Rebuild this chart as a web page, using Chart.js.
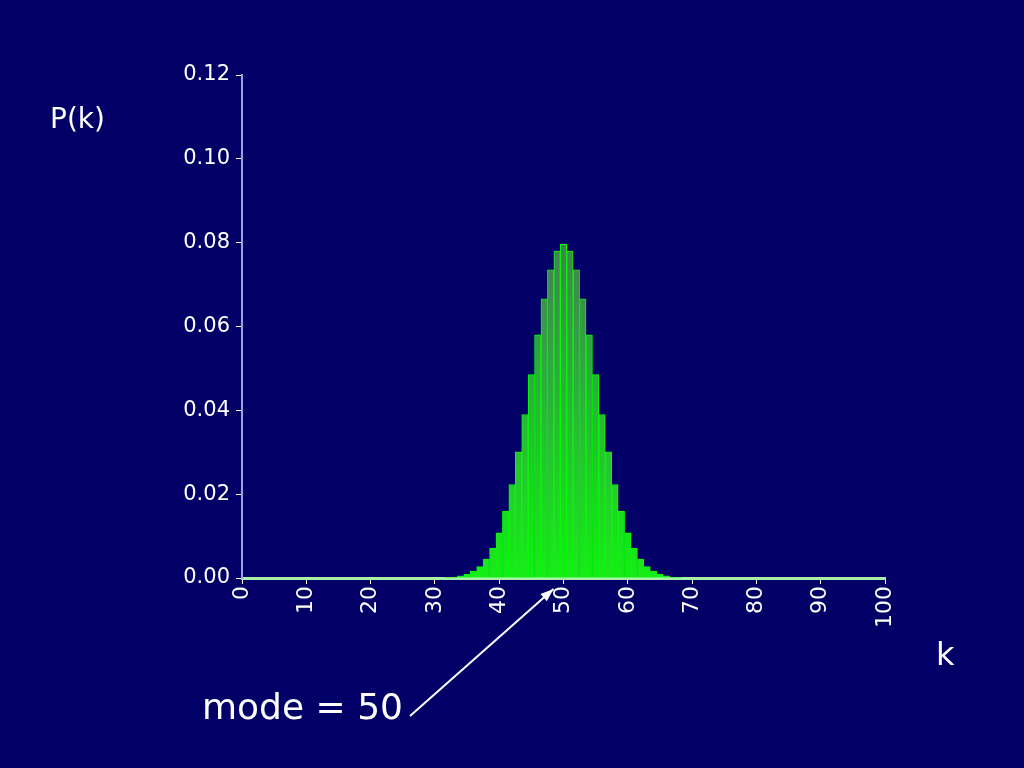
<!DOCTYPE html>
<html lang="en">
<head>
    <meta charset="UTF-8">
    <title>P(k) - binomial</title>
    <script src="https://cdn.jsdelivr.net/npm/chart.js"></script>
    <style>
        html, body {
            margin: 0;
            padding: 0;
            background: #020066;
        }
        .chart-container {
            position: relative;
            width: 1024px;
            height: 768px;
        }
    </style>
</head>
<body>

<div class="chart-container">
    <canvas id="binomChart" width="1024" height="768"></canvas>
</div>

<script>
    // k = 0 .. 100
    const kValues = [
        0, 1, 2, 3, 4, 5, 6, 7, 8, 9,
        10, 11, 12, 13, 14, 15, 16, 17, 18, 19,
        20, 21, 22, 23, 24, 25, 26, 27, 28, 29,
        30, 31, 32, 33, 34, 35, 36, 37, 38, 39,
        40, 41, 42, 43, 44, 45, 46, 47, 48, 49,
        50, 51, 52, 53, 54, 55, 56, 57, 58, 59,
        60, 61, 62, 63, 64, 65, 66, 67, 68, 69,
        70, 71, 72, 73, 74, 75, 76, 77, 78, 79,
        80, 81, 82, 83, 84, 85, 86, 87, 88, 89,
        90, 91, 92, 93, 94, 95, 96, 97, 98, 99,
        100
    ];

    // P(k)
    const pValues = [
        0, 0, 0, 0, 0, 0, 0, 0, 0, 0,
        0, 0, 0, 0, 0, 0, 0, 0, 0, 0,
        0, 0, 0, 0, 0, 0, 0, 0, 0, 0,
        0, 0, 0.0001, 0.0002, 0.0005, 0.0009, 0.0016, 0.0027, 0.0045, 0.0071,
        0.0108, 0.0159, 0.0223, 0.0301, 0.0390, 0.0485, 0.0580, 0.0666, 0.0735, 0.0780,
        0.0796, 0.0780, 0.0735, 0.0666, 0.0580, 0.0485, 0.0390, 0.0301, 0.0223, 0.0159,
        0.0108, 0.0071, 0.0045, 0.0027, 0.0016, 0.0009, 0.0005, 0.0002, 0.0001, 0,
        0, 0, 0, 0, 0, 0, 0, 0, 0, 0,
        0, 0, 0, 0, 0, 0, 0, 0, 0, 0,
        0, 0, 0, 0, 0, 0, 0, 0, 0, 0,
        0
    ];

    const xTicks = [0, 10, 20, 30, 40, 50, 60, 70, 80, 90, 100];
    const yTicks = [0, 0.02, 0.04, 0.06, 0.08, 0.10, 0.12];

    const FONT = "'Comic Sans MS', 'DejaVu Sans', sans-serif";

    // background + text labels + arrow
    const decor = {
        id: 'decor',
        beforeDraw(chart) {
            const ctx = chart.ctx;
            ctx.save();
            ctx.fillStyle = '#020066';
            ctx.fillRect(0, 0, chart.width, chart.height);
            ctx.restore();
        },
        afterDraw(chart) {
            const ctx = chart.ctx;
            const xs = chart.scales.x;
            const area = chart.chartArea;
            ctx.save();
            ctx.fillStyle = '#ffffff';
            ctx.textBaseline = 'middle';
            ctx.font = '28px ' + FONT;
            ctx.fillText('P(k)', 50, 121);
            ctx.font = '32px ' + FONT;
            ctx.fillText('k', 936, 657);
            ctx.font = '36px ' + FONT;
            ctx.fillText('mode = 50', 202, 710);

            // arrow pointing at k = 50
            const tipX = xs.getPixelForValue(50) - 10;
            const tipY = area.bottom + 11;
            const fromX = 410, fromY = 716;
            ctx.strokeStyle = '#ffffff';
            ctx.lineWidth = 2;
            ctx.beginPath();
            ctx.moveTo(fromX, fromY);
            ctx.lineTo(tipX, tipY);
            ctx.stroke();
            const ang = Math.atan2(tipY - fromY, tipX - fromX);
            const len = 14;
            ctx.beginPath();
            ctx.moveTo(tipX, tipY);
            ctx.lineTo(tipX - len * Math.cos(ang - 0.35), tipY - len * Math.sin(ang - 0.35));
            ctx.lineTo(tipX - len * Math.cos(ang + 0.35), tipY - len * Math.sin(ang + 0.35));
            ctx.closePath();
            ctx.fillStyle = '#ffffff';
            ctx.fill();
            ctx.restore();
        }
    };

    // darker, greyish green at the top, bright green towards the baseline
    function barFill(context) {
        const chart = context.chart;
        const area = chart.chartArea;
        if (!area) return 'rgb(45,170,60)';
        const g = chart.ctx.createLinearGradient(0, area.top + 165, 0, area.bottom);
        g.addColorStop(0, 'rgb(70,125,85)');
        g.addColorStop(0.45, 'rgb(45,175,60)');
        g.addColorStop(1, 'rgb(25,235,25)');
        return g;
    }

    const config = {
        type: 'bar',
        data: {
            datasets: [{
                label: 'P(k)',
                data: kValues.map((k, i) => ({ x: k, y: pValues[i] })),
                backgroundColor: barFill,
                borderColor: '#00ff00',
                borderWidth: 1,
                barPercentage: 1.0,
                categoryPercentage: 1.0
            }]
        },
        options: {
            responsive: false,
            animation: false,
            layout: {
                padding: { left: 0, right: 139, top: 75, bottom: 0 }
            },
            scales: {
                x: {
                    type: 'linear',
                    min: 0,
                    max: 100,
                    offset: false,
                    afterBuildTicks: (scale) => {
                        scale.ticks = xTicks.map(v => ({ value: v }));
                    },
                    afterFit: (scale) => { scale.height = 190; },
                    ticks: {
                        color: '#ffffff',
                        font: { family: FONT, size: 22 },
                        minRotation: 90,
                        maxRotation: 90,
                        padding: 2,
                        autoSkip: false
                    },
                    grid: {
                        display: true,
                        offset: false,
                        drawOnChartArea: false,
                        drawTicks: true,
                        tickLength: 6,
                        tickColor: '#ffffff'
                    },
                    border: { color: '#a8f0a8', width: 3 }
                },
                y: {
                    min: 0,
                    max: 0.12,
                    afterBuildTicks: (scale) => {
                        scale.ticks = yTicks.map(v => ({ value: v }));
                    },
                    afterFit: (scale) => { scale.width = 242; },
                    ticks: {
                        color: '#ffffff',
                        font: { family: FONT, size: 21 },
                        padding: 6,
                        callback: (v) => Number(v).toFixed(2)
                    },
                    grid: {
                        display: true,
                        drawOnChartArea: false,
                        drawTicks: true,
                        tickLength: 6,
                        tickColor: '#ffffff'
                    },
                    border: { color: '#a0a0e0', width: 2 }
                }
            },
            plugins: {
                legend: { display: false },
                tooltip: { enabled: false }
            }
        },
        plugins: [decor]
    };

    const binomChart = new Chart(
        document.getElementById('binomChart'),
        config
    );
</script>

</body>
</html>
